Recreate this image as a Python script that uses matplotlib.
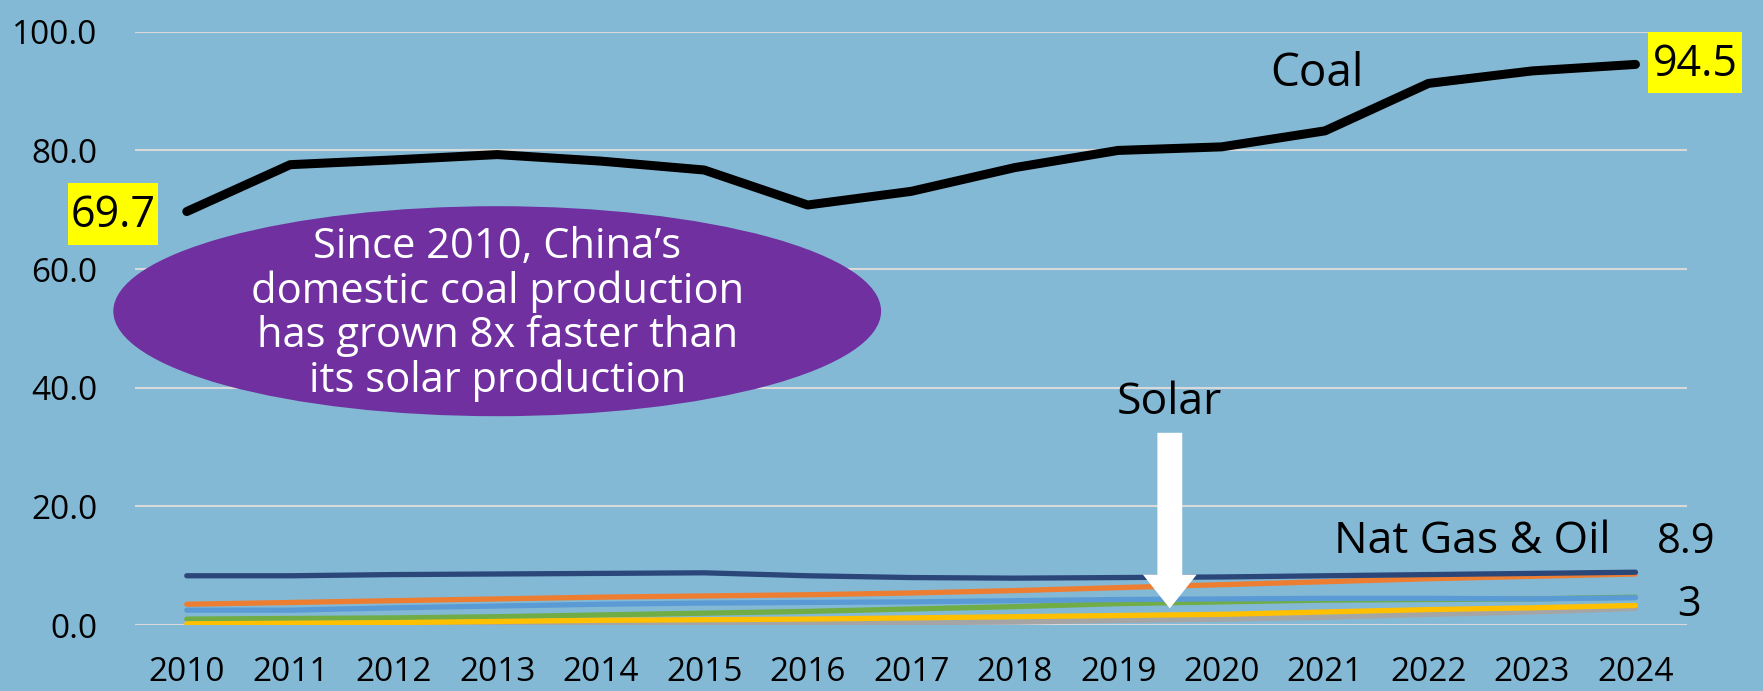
import matplotlib
matplotlib.use("Agg")
import matplotlib.pyplot as plt
from matplotlib.patches import Ellipse, FancyArrow, Rectangle

years = ["2010", "2011", "2012", "2013", "2014", "2015", "2016", "2017",
         "2018", "2019", "2020", "2021", "2022", "2023", "2024"]
coal = [69.7, 77.6, 78.4, 79.3, 78.2, 76.7, 70.8, 73.1, 77.1, 80.0, 80.6, 83.3, 91.3, 93.4, 94.5]
natgas_oil = [8.3, 8.3, 8.5, 8.6, 8.7, 8.8, 8.3, 8.0, 7.9, 8.0, 8.1, 8.3, 8.5, 8.7, 8.9]
orange = [3.5, 3.8, 4.1, 4.4, 4.7, 4.9, 5.1, 5.4, 5.8, 6.3, 6.8, 7.3, 7.8, 8.2, 8.6]
blue = [2.5, 2.5, 2.9, 3.2, 3.5, 3.7, 3.8, 3.9, 4.1, 4.3, 4.4, 4.5, 4.5, 4.4, 4.6]
green = [1.0, 1.1, 1.2, 1.4, 1.7, 2.0, 2.3, 2.7, 3.1, 3.6, 3.9, 4.2, 4.3, 4.4, 4.7]
gray = [0.0, 0.0, 0.05, 0.1, 0.15, 0.2, 0.3, 0.4, 0.5, 0.8, 1.0, 1.3, 1.8, 2.2, 2.8]
solar = [0.2, 0.3, 0.4, 0.6, 0.8, 0.9, 1.0, 1.2, 1.4, 1.6, 1.8, 2.2, 2.6, 2.9, 3.3]
yticks = [0, 20, 40, 60, 80, 100]

BG = "#84B9D6"
FONT = ["Open Sans", "DejaVu Sans"]
plt.rcParams["font.family"] = FONT
plt.rcParams["font.weight"] = 500

fig = plt.figure(figsize=(17.63, 6.91), dpi=100, facecolor=BG)
ax = fig.add_axes([0.0766, 0.0955, 0.957 - 0.0766, 0.954 - 0.0955], facecolor=BG)

x = list(range(len(years)))
ax.plot(x, gray, color="#A5A5A5", lw=3.8, solid_capstyle="round", zorder=3)
ax.plot(x, solar, color="#FFC000", lw=3.8, solid_capstyle="round", zorder=4)
ax.plot(x, green, color="#70AD47", lw=3.8, solid_capstyle="round", zorder=3)
ax.plot(x, blue, color="#5B9BD5", lw=3.8, solid_capstyle="round", zorder=3)
ax.plot(x, orange, color="#ED7D31", lw=3.8, solid_capstyle="round", zorder=3)
ax.plot(x, natgas_oil, color="#2B4679", lw=3.8, solid_capstyle="round", zorder=4)
ax.plot(x, coal, color="black", lw=6.5, solid_capstyle="round", zorder=5)

ax.set_xlim(-0.5, len(years) - 0.5)
ax.set_ylim(0, 100)
ax.set_yticks(yticks)
ax.set_yticklabels([f"{v:.1f}" for v in yticks], fontsize=24)
ax.set_xticks(x)
ax.set_xticklabels(years, fontsize=24)
ax.tick_params(axis="x", length=0, pad=22)
ax.tick_params(axis="y", length=0, pad=27)
ax.yaxis.grid(True, color="#D9D9D9", lw=1.5)
ax.set_axisbelow(True)
for s in ax.spines.values():
    s.set_visible(False)

# Ellipse annotation
ax.add_patch(Ellipse((3.0, 52.9), 7.42, 35.4, facecolor="#7030A0", edgecolor="none",
                     zorder=6, clip_on=False))
ax.text(3.0, 52.4, "Since 2010, China\u2019s\ndomestic coal production\nhas grown 8x faster than\nits solar production",
        ha="center", va="center", color="white", fontsize=30, linespacing=1.07, zorder=7)

# Value labels with yellow boxes
ax.add_patch(Rectangle((-1.146, 64.0), 0.867, 10.5, facecolor="#FFFF00", edgecolor="none",
                       clip_on=False, zorder=7))
ax.text(-0.71, 69.0, "69.7", ha="center", va="center", fontsize=31, clip_on=False, zorder=8)
ax.add_patch(Rectangle((14.12, 89.6), 0.91, 10.3, facecolor="#FFFF00", edgecolor="none",
                       clip_on=False, zorder=7))
ax.text(14.575, 94.4, "94.5", ha="center", va="center", fontsize=31, clip_on=False, zorder=8)

ax.text(10.92, 92.8, "Coal", ha="center", va="center", fontsize=33, zorder=8)
ax.text(12.42, 14.0, "Nat Gas & Oil", ha="center", va="center", fontsize=32, zorder=8)
ax.text(14.49, 14.0, "8.9", ha="center", va="center", fontsize=30, clip_on=False, zorder=8)
ax.text(14.52, 3.3, "3", ha="center", va="center", fontsize=30, clip_on=False, zorder=8)
ax.text(9.5, 37.4, "Solar", ha="center", va="center", fontsize=32, zorder=8)

ax.add_patch(FancyArrow(9.5, 32.4, 0, -29.6, width=0.24, head_width=0.52,
                        head_length=5.7, length_includes_head=True,
                        facecolor="white", edgecolor="none", zorder=9))

fig.savefig("out.png", dpi=100, facecolor=BG)
